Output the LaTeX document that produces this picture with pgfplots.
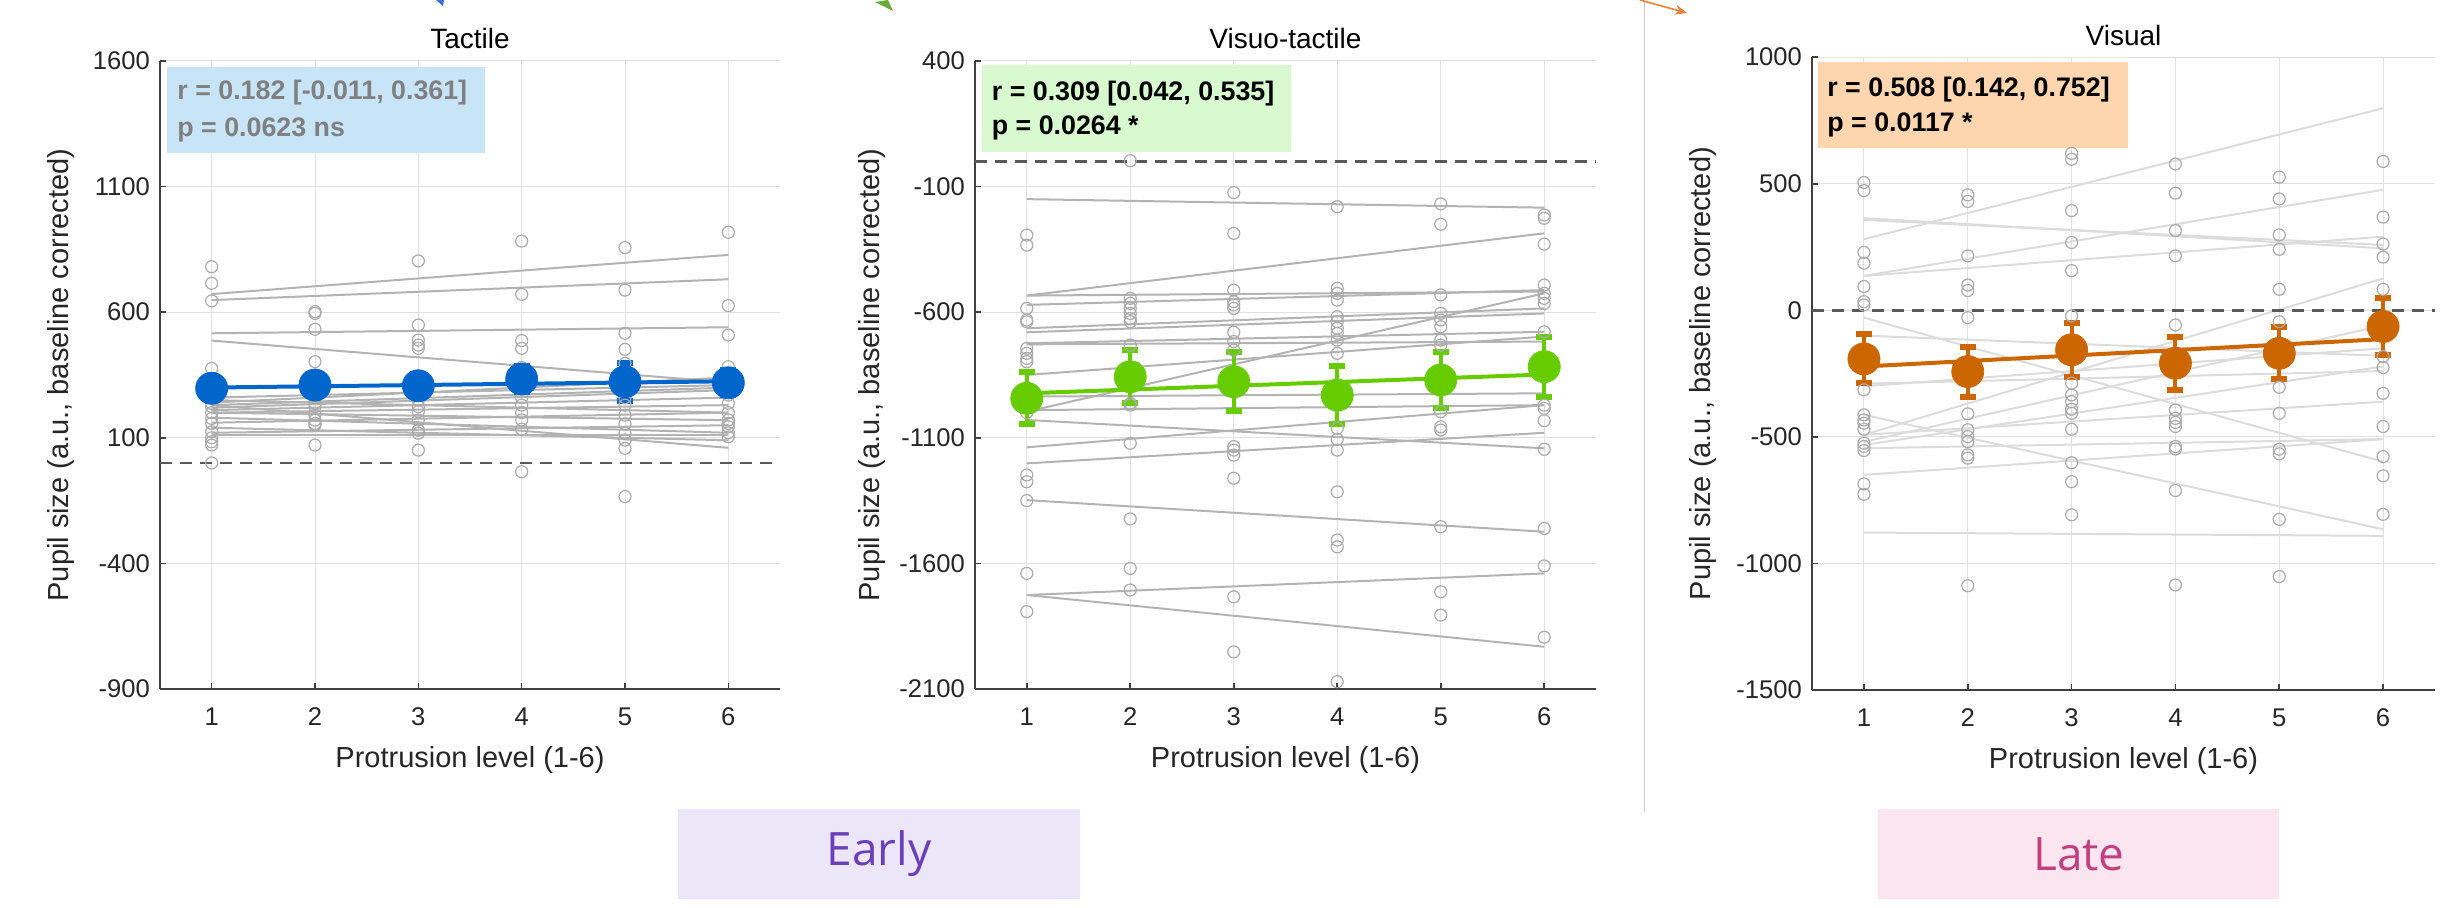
\documentclass[border=0pt]{standalone}
\usepackage{fontspec}
\setmainfont{Liberation Sans}
\newfontfamily\tagfont{Open Sans}
\usepackage{pgfplots}
\pgfplotsset{compat=1.18}
\usetikzlibrary{arrows.meta}

\definecolor{tblue}{HTML}{0066CC}
\definecolor{vgreen}{HTML}{66CC00}
\definecolor{vorange}{HTML}{CC6600}
\definecolor{indiv}{HTML}{B3B3B3}
\definecolor{indivlight}{HTML}{DCDCDC}
\definecolor{circ}{HTML}{ABABAB}
\definecolor{axcol}{HTML}{404040}
\definecolor{gridcol}{HTML}{E0E0E0}
\definecolor{boxblue}{HTML}{C8E5F8}
\definecolor{boxgreen}{HTML}{D8F8D0}
\definecolor{boxorange}{HTML}{FDD5AF}
\definecolor{earlybg}{HTML}{EBE6F8}
\definecolor{earlyfg}{HTML}{6B3FB8}
\definecolor{latebg}{HTML}{FBE6EF}
\definecolor{latefg}{HTML}{C2407F}
\definecolor{sepcol}{HTML}{C8C8C0}
\definecolor{arrblue}{HTML}{3A6FD8}
\definecolor{arrgreen}{HTML}{6AAA3A}
\definecolor{arrorange}{HTML}{E8823A}

\tikzset{boxtext/.style={anchor=west, inner sep=0pt, font=\bfseries\fontsize{13.4}{15}\selectfont}}

\pgfplotsset{
  panel/.style={
    scale only axis,
    anchor=south west,
    xmin=0.5, xmax=6.5,
    xtick={1,2,3,4,5,6},
    xticklabels={1,2,3,4,5,6},
    axis lines*=left,
    axis line style={axcol, line width=0.8pt},
    tick align=inside,
    major tick length=3pt,
    tick style={axcol, line width=0.8pt},
    grid=major,
    grid style={gridcol, line width=0.5pt},
    ticklabel style={font=\fontsize{12.8}{14}\selectfont, text=black!85},
    xticklabel style={yshift=-6pt},
    yticklabel style={xshift=-1.5pt},
    xlabel={Protrusion level (1-6)},
    ylabel={Pupil size (a.u., baseline corrected)},
    label style={font=\fontsize{14.5}{16}\selectfont, text=black!85},
    xlabel style={at={(axis description cs:0.5,0)}, anchor=center, yshift=-35.5pt},
    title style={font=\fontsize{14}{16}\selectfont, text=black, at={(axis description cs:0.5,1)}, anchor=center, yshift=5pt},
  },
  indivline/.style={indiv, line width=1pt, forget plot},
  indivlinel/.style={indivlight, line width=1pt, forget plot},
  circles/.style={only marks, mark=o, mark size=3pt, mark options={circ, line width=0.6pt}},
  zeroline/.style={black!65, line width=1.4pt, dash pattern=on 6pt off 4pt},
  means/.style={only marks, mark=*, mark size=8pt, color=#1,
    error bars/.cd, y dir=both, y explicit,
    error bar style={line width=2pt, #1},
    error mark options={rotate=90, mark size=4pt, line width=3pt, #1}},
}

\begin{document}
\begin{tikzpicture}[x=1pt,y=1pt]
\useasboundingbox (0,0) rectangle (1221.5,454);

% ---------------- Tactile ----------------
\begin{axis}[panel, at={(80pt,109.5pt)}, width=310pt, height=314pt,
  ymin=-900, ymax=1600,
  ytick={-900,-400,100,600,1100,1600},
  yticklabels={-900,-400,100,600,1100,1600},
  title={Tactile},
  ylabel style={at={(axis description cs:-0.16,0.5)}, anchor=center}]
\addplot[indivline] coordinates {(1,672) (6,828)};
\addplot[indivline] coordinates {(1,648) (6,731)};
\addplot[indivline] coordinates {(1,516) (6,540)};
\addplot[indivline] coordinates {(1,487) (6,320)};
\addplot[indivline] coordinates {(1,240) (6,340)};
\addplot[indivline] coordinates {(1,230) (6,300)};
\addplot[indivline] coordinates {(1,220) (6,290)};
\addplot[indivline] coordinates {(1,210) (6,260)};
\addplot[indivline] coordinates {(1,200) (6,230)};
\addplot[indivline] coordinates {(1,230) (6,60)};
\addplot[indivline] coordinates {(1,180) (6,120)};
\addplot[indivline] coordinates {(1,160) (6,200)};
\addplot[indivline] coordinates {(1,140) (6,90)};
\addplot[indivline] coordinates {(1,120) (6,150)};
\addplot[indivline] coordinates {(1,110) (6,110)};
\addplot[indivline] coordinates {(1,200) (6,170)};
\addplot[indivline] coordinates {(1,260) (6,310)};
\addplot[indivline] coordinates {(1,250) (6,200)};
\addplot[circles] coordinates {
 (1,781) (1,715) (1,645) (1,376) (1,330) (1,300) (1,270) (1,237) (1,224) (1,177) (1,157) (1,124) (1,100) (1,84) (1,71) (1,0) (1,200) (1,260)
 (2,602) (2,595) (2,532) (2,403) (2,330) (2,300) (2,260) (2,237) (2,224) (2,191) (2,170) (2,157) (2,151) (2,71)
 (3,804) (3,549) (3,489) (3,469) (3,456) (3,330) (3,280) (3,250) (3,224) (3,204) (3,171) (3,130) (3,118) (3,51)
 (4,883) (4,671) (4,487) (4,456) (4,380) (4,340) (4,300) (4,260) (4,230) (4,200) (4,171) (4,134) (4,-35)
 (5,857) (5,688) (5,516) (5,452) (5,396) (5,330) (5,300) (5,260) (5,230) (5,190) (5,155) (5,118) (5,91) (5,58) (5,-134)
 (6,918) (6,626) (6,509) (6,383) (6,330) (6,300) (6,270) (6,237) (6,200) (6,171) (6,157) (6,144) (6,120) (6,104)
};
\addplot[zeroline] coordinates {(0.5,0) (6.5,0)};
\addplot[tblue, line width=2pt] coordinates {(1,300) (6,325)};
\addplot[means=tblue] coordinates {
 (1,297) +- (0,45) (2,310) +- (0,45) (3,307) +- (0,45)
 (4,334) +- (0,50) (5,323) +- (0,75) (6,319) +- (0,50)};
\node[fill=boxblue, anchor=north west, minimum width=159pt, minimum height=43pt, inner sep=0pt] (b1) at (rel axis cs:0.0113,0.9904) {};
\node[boxtext, text=black!50] at ([xshift=5pt,yshift=-13pt]b1.north west) {r = 0.182 [-0.011, 0.361]};
\node[boxtext, text=black!50] at ([xshift=5pt,yshift=-31.5pt]b1.north west) {p = 0.0623 ns};
\end{axis}

% ---------------- Visuo-tactile ----------------
\begin{axis}[panel, at={(487.5pt,109.5pt)}, width=310.5pt, height=314pt,
  ymin=-2100, ymax=400,
  ytick={-2100,-1600,-1100,-600,-100,400},
  yticklabels={-2100,-1600,-1100,-600,-100,400},
  title={Visuo-tactile},
  ylabel style={at={(axis description cs:-0.166,0.5)}, anchor=center}]
\addplot[indivline] coordinates {(1,-150) (6,-184)};
\addplot[indivline] coordinates {(1,-534) (6,-286)};
\addplot[indivline] coordinates {(1,-534) (6,-518)};
\addplot[indivline] coordinates {(1,-571) (6,-512)};
\addplot[indivline] coordinates {(1,-664) (6,-585)};
\addplot[indivline] coordinates {(1,-680) (6,-605)};
\addplot[indivline] coordinates {(1,-724) (6,-678)};
\addplot[indivline] coordinates {(1,-728) (6,-717)};
\addplot[indivline] coordinates {(1,-996) (6,-525)};
\addplot[indivline] coordinates {(1,-850) (6,-697)};
\addplot[indivline] coordinates {(1,-936) (6,-923)};
\addplot[indivline] coordinates {(1,-1029) (6,-1142)};
\addplot[indivline] coordinates {(1,-1138) (6,-970)};
\addplot[indivline] coordinates {(1,-1202) (6,-1080)};
\addplot[indivline] coordinates {(1,-1348) (6,-1474)};
\addplot[indivline] coordinates {(1,-1726) (6,-1640)};
\addplot[indivline] coordinates {(1,-1726) (6,-1932)};
\addplot[indivline] coordinates {(1,-990) (6,-970)};
\addplot[circles] coordinates {
 (1,-293) (1,-333) (1,-585) (1,-631) (1,-638) (1,-744) (1,-764) (1,-784) (1,-797) (1,-940) (1,-1000) (1,-1248) (1,-1275) (1,-1350) (1,-1640) (1,-1792)
 (2,3) (2,-545) (2,-565) (2,-585) (2,-605) (2,-625) (2,-638) (2,-731) (2,-860) (2,-963) (2,-970) (2,-1122) (2,-1423) (2,-1620) (2,-1706)
 (3,-124) (3,-286) (3,-512) (3,-558) (3,-571) (3,-585) (3,-680) (3,-717) (3,-751) (3,-1135) (3,-1149) (3,-1169) (3,-1261) (3,-1733) (3,-1952)
 (4,-180) (4,-505) (4,-525) (4,-552) (4,-618) (4,-638) (4,-664) (4,-684) (4,-711) (4,-764) (4,-1062) (4,-1106) (4,-1149) (4,-1315) (4,-1507) (4,-1534) (4,-2071)
 (5,-169) (5,-250) (5,-531) (5,-605) (5,-631) (5,-658) (5,-711) (5,-731) (5,-996) (5,-1056) (5,-1069) (5,-1454) (5,-1713) (5,-1806)
 (6,-213) (6,-226) (6,-329) (6,-492) (6,-525) (6,-545) (6,-565) (6,-678) (6,-970) (6,-983) (6,-1032) (6,-1146) (6,-1461) (6,-1610) (6,-1894)
};
\addplot[zeroline] coordinates {(0.5,0) (6.5,0)};
\addplot[vgreen, line width=2pt] coordinates {(1,-923) (6,-848)};
\addplot[means=vgreen] coordinates {
 (1,-943) +- (0,103) (2,-857) +- (0,106) (3,-877) +- (0,118)
 (4,-930) +- (0,116) (5,-870) +- (0,110) (6,-817) +- (0,120)};
\node[fill=boxgreen, anchor=north west, minimum width=154.5pt, minimum height=43.5pt, inner sep=0pt] (b2) at (rel axis cs:0.0113,0.995) {};
\node[boxtext, text=black] at ([xshift=4.75pt,yshift=-14.5pt]b2.north west) {r = 0.309 [0.042, 0.535]};
\node[boxtext, text=black] at ([xshift=4.75pt,yshift=-32pt]b2.north west) {p = 0.0264 *};
\end{axis}

% ---------------- Visual ----------------
\begin{axis}[panel, at={(906pt,109pt)}, width=311.5pt, height=316.4pt,
  ymin=-1500, ymax=1000,
  ytick={-1500,-1000,-500,0,500,1000},
  yticklabels={-1500,-1000,-500,0,500,1000},
  title={Visual},
  ylabel style={at={(axis description cs:-0.175,0.5)}, anchor=center}]
\addplot[indivlinel] coordinates {(1,281) (6,798)};
\addplot[indivlinel] coordinates {(1,364) (6,245)};
\addplot[indivlinel] coordinates {(1,357) (6,258)};
\addplot[indivlinel] coordinates {(1,136) (6,476)};
\addplot[indivlinel] coordinates {(1,136) (6,291)};
\addplot[indivlinel] coordinates {(1,-29) (6,-598)};
\addplot[indivlinel] coordinates {(1,-100) (6,-180)};
\addplot[indivlinel] coordinates {(1,-290) (6,-240)};
\addplot[indivlinel] coordinates {(1,-300) (6,-150)};
\addplot[indivlinel] coordinates {(1,-492) (6,126)};
\addplot[indivlinel] coordinates {(1,-492) (6,-361)};
\addplot[indivlinel] coordinates {(1,-532) (6,-222)};
\addplot[indivlinel] coordinates {(1,-545) (6,-509)};
\addplot[indivlinel] coordinates {(1,-650) (6,-509)};
\addplot[indivlinel] coordinates {(1,-413) (6,-865)};
\addplot[indivlinel] coordinates {(1,-878) (6,-891)};
\addplot[indivlinel] coordinates {(1,-520) (6,-60)};
\addplot[circles] coordinates {
 (1,505) (1,473) (1,229) (1,186) (1,94) (1,34) (1,21) (1,-192) (1,-314) (1,-413) (1,-433) (1,-446) (1,-470) (1,-525) (1,-538) (1,-554) (1,-686) (1,-727)
 (2,456) (2,430) (2,215) (2,100) (2,78) (2,-29) (2,-242) (2,-409) (2,-472) (2,-499) (2,-519) (2,-571) (2,-584) (2,-1088)
 (3,620) (3,597) (3,394) (3,268) (3,157) (3,-22) (3,-288) (3,-334) (3,-361) (3,-391) (3,-407) (3,-470) (3,-602) (3,-677) (3,-808)
 (4,578) (4,463) (4,315) (4,215) (4,-58) (4,-209) (4,-394) (4,-427) (4,-443) (4,-459) (4,-538) (4,-548) (4,-712) (4,-1085)
 (5,526) (5,440) (5,298) (5,241) (5,83) (5,-45) (5,-170) (5,-304) (5,-407) (5,-549) (5,-567) (5,-826) (5,-1052)
 (6,588) (6,368) (6,262) (6,210) (6,83) (6,-64) (6,-183) (6,-226) (6,-328) (6,-459) (6,-578) (6,-654) (6,-806)
};
\addplot[zeroline] coordinates {(0.5,0) (6.5,0)};
\addplot[vorange, line width=2pt] coordinates {(1,-222) (6,-114)};
\addplot[means=vorange] coordinates {
 (1,-192) +- (0,97) (2,-242) +- (0,99) (3,-156) +- (0,107)
 (4,-209) +- (0,105) (5,-170) +- (0,103) (6,-64) +- (0,112)};
\node[fill=boxorange, anchor=north west, minimum width=155pt, minimum height=43pt, inner sep=0pt] (b3) at (rel axis cs:0.0096,0.9926) {};
\node[boxtext, text=black] at ([xshift=4.5pt,yshift=-14pt]b3.north west) {r = 0.508 [0.142, 0.752]};
\node[boxtext, text=black] at ([xshift=4.5pt,yshift=-31.5pt]b3.north west) {p = 0.0117 *};
\end{axis}

% ---------------- decorations ----------------
\draw[sepcol, line width=0.5pt] (822,454) -- (822,48);
\fill[earlybg] (339,4.5) rectangle (540,49.5);
\node[text=earlyfg, font=\tagfont\fontsize{23}{26}\selectfont] at (439.5,27) {Early};
\fill[latebg] (939,4.5) rectangle (1139.5,49.5);
\node[text=latefg, font=\tagfont\fontsize{23}{26}\selectfont] at (1039.5,27) {Late};
\fill[arrblue] (218,454) -- (222,454) -- (221.5,451) -- cycle;
\fill[arrgreen] (437.5,453) -- (446.5,448.5) -- (444,454) -- cycle;
\draw[arrorange, line width=0.8pt, -{Stealth[length=6pt,width=5pt]}] (820,454) -- (843.5,447.5);
\end{tikzpicture}
\end{document}
